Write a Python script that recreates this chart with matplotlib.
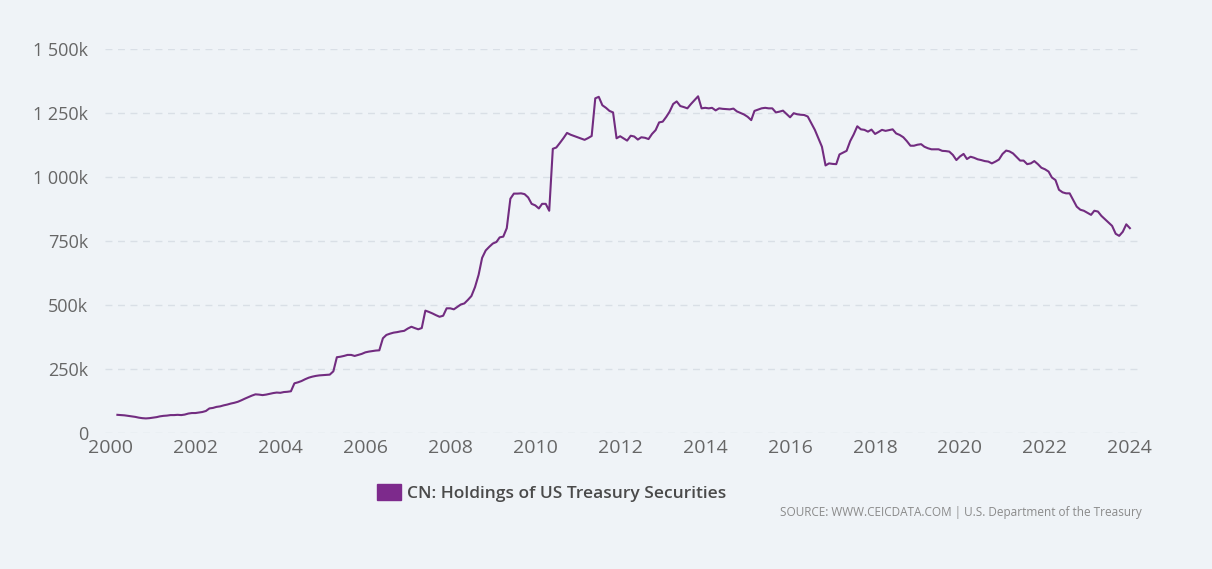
import matplotlib.pyplot as plt
import matplotlib.ticker as mticker
import matplotlib.dates as mdates
from matplotlib.patches import Patch
import pandas as pd

# CN holdings of US Treasury securities, USD mn (in thousands), monthly from Mar 2000
start = "2000-03-01"
holdings = [
    # 2000 (Mar-Dec)
    71, 70, 69, 67, 65, 63, 60, 58, 57, 58,
    # 2001
    60, 62, 65, 67, 68, 70, 70, 71, 70, 72, 76, 78,
    # 2002
    78, 80, 82, 86, 96, 98, 102, 104, 108, 111, 115, 118,
    # 2003
    122, 128, 134, 140, 146, 151, 150, 148, 150, 153, 156, 158,
    # 2004
    157, 160, 161, 163, 194, 198, 203, 210, 216, 220, 223, 225,
    # 2005
    226, 227, 228, 241, 296, 298, 301, 305, 305, 301, 305, 309,
    # 2006
    315, 318, 320, 322, 323, 370, 383, 388, 392, 394, 397, 399,
    # 2007
    408, 415, 410, 405, 410, 478, 473, 467, 460, 454, 458, 487,
    # 2008
    487, 483, 492, 502, 506, 520, 535, 570, 618, 684, 713, 727,
    # 2009
    740, 746, 764, 767, 800, 915, 935, 935, 936, 933, 920, 895,
    # 2010
    889, 877, 895, 895, 868, 1110, 1115, 1133, 1152, 1172, 1165, 1160,
    # 2011
    1155, 1150, 1145, 1152, 1160, 1307, 1313, 1280, 1270, 1258, 1252, 1151,
    # 2012
    1159, 1150, 1142, 1161, 1158, 1146, 1155, 1153, 1148, 1168, 1183, 1213,
    # 2013
    1216, 1235, 1255, 1285, 1295, 1277, 1273, 1268, 1285, 1300, 1315, 1268,
    # 2014
    1270, 1268, 1270, 1260, 1268, 1266, 1265, 1264, 1267, 1256, 1250, 1244,
    # 2015
    1235, 1222, 1258, 1263, 1268, 1270, 1268, 1268, 1252, 1255, 1259, 1246,
    # 2016
    1233, 1249, 1245, 1243, 1242, 1236, 1210, 1184, 1150, 1118, 1045, 1053,
    # 2017
    1051, 1050, 1088, 1095, 1102, 1140, 1166, 1198, 1186, 1184, 1177, 1185,
    # 2018
    1168, 1176, 1184, 1180, 1183, 1186, 1170, 1164, 1155, 1140, 1122, 1122,
    # 2019
    1126, 1128, 1118, 1112, 1108, 1108, 1108, 1102, 1101, 1099, 1086, 1066,
    # 2020
    1080, 1090, 1070, 1079, 1075, 1069, 1066, 1062, 1060, 1053, 1060, 1068,
    # 2021
    1090, 1103, 1100, 1092, 1078, 1064, 1064, 1050, 1053, 1062, 1050, 1036,
    # 2022
    1030, 1021, 998, 988, 950, 940, 936, 936, 910, 884, 872, 868,
    # 2023
    860, 852, 868, 865, 848, 835, 822, 809, 778, 770, 786, 815,
    # 2024
    800,
]
yticks = [0, 250, 500, 750, 1000, 1250, 1500]
xyears = list(range(2000, 2025, 2))
series_name = "CN: Holdings of US Treasury Securities"
source_text = "SOURCE: WWW.CEICDATA.COM | U.S. Department of the Treasury"

bg = "#eff3f7"
purple = "#722c80"
legend_purple = "#7d2a8c"

plt.rcParams['font.family'] = ['Open Sans', 'DejaVu Sans']


def fmt_k(v, pos):
    if v == 0:
        return "0"
    return "{:,.0f}k".format(v).replace(",", " ")


dates = pd.date_range(start, periods=len(holdings), freq="MS")

fig = plt.figure(figsize=(12.12, 5.69), dpi=100, facecolor=bg)
ax = fig.add_axes([0.0866, 0.239, 0.854, 0.675], facecolor=bg)

ax.plot(dates, holdings, color=purple, lw=1.5, zorder=3)

ax.set_ylim(0, 1500)
ax.set_yticks(yticks)
ax.yaxis.set_major_formatter(mticker.FuncFormatter(fmt_k))
ax.set_xlim(pd.Timestamp("1999-11-15"), pd.Timestamp("2024-03-28"))
ax.set_xticks([pd.Timestamp(f"{y}-01-01") for y in xyears])
ax.xaxis.set_major_formatter(mdates.DateFormatter("%Y"))

ax.grid(axis="y", color="#d9dfe6", lw=1, ls=(0, (5, 4)), zorder=0)
for s in ax.spines.values():
    s.set_visible(False)
ax.tick_params(axis="y", length=0, pad=12, labelsize=13, labelcolor="#666666")
ax.tick_params(axis="x", length=0, pad=4, labelsize=14, labelcolor="#666666")

fig.legend(handles=[Patch(color=legend_purple)], labels=[series_name],
           loc="center", bbox_to_anchor=(0.455, 0.133), frameon=False,
           handlelength=1.4, handleheight=1.0, handletextpad=0.3,
           prop={"size": 12.5, "weight": "semibold"}, labelcolor="#4a4a4a")

fig.text(0.942, 0.1, source_text, ha="right", va="center",
         fontsize=8.5, color="#8a8a8a")

fig.savefig("out.png", dpi=100, facecolor=bg)
